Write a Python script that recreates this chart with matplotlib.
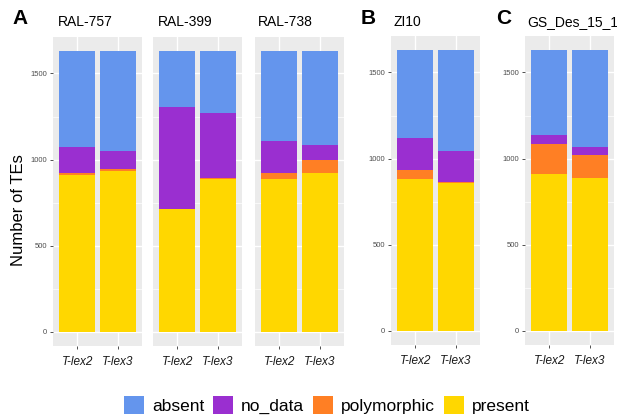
import matplotlib
matplotlib.use('Agg')
import matplotlib.pyplot as plt
from matplotlib.patches import Patch
import numpy as np

plt.rcParams['font.family'] = ['Liberation Sans', 'DejaVu Sans']

# Data (number of TEs per category)
samples = ['RAL-757', 'RAL-399', 'RAL-738', 'ZI10', 'GS_Des_15_1']
genotypes = ['T-lex2', 'T-lex3']
present = [[909, 936], [714, 890], [890, 924], [879, 858], [912, 885]]
polymorphic = [[15, 10], [0, 5], [33, 74], [54, 8], [174, 134]]
no_data = [[147, 106], [589, 376], [187, 87], [185, 178], [50, 46]]
absent = [[559, 578], [327, 359], [520, 545], [512, 586], [494, 565]]

categories = ['absent', 'no_data', 'polymorphic', 'present']
colors = {'absent': '#6495ED', 'no_data': '#9A2FD0',
          'polymorphic': '#FF7F24', 'present': '#FFD700'}
stack_order = [('present', present), ('polymorphic', polymorphic),
               ('no_data', no_data), ('absent', absent)]

W, H = 617, 419
fig = plt.figure(figsize=(W / 100, H / 100), dpi=100)

# facet boxes in pixels: (left, right, top, bottom), and title x offset
boxes = [(53, 142, 37, 346), (153, 242, 37, 346), (255, 344, 37, 346),
         (391, 480, 36, 345), (525, 614, 36, 345)]
title_dx = [5, 5, 3, 2, 2]
show_y = [True, False, False, True, True]

x = np.array([1, 2])
for i, (name, (l, r, t, b)) in enumerate(zip(samples, boxes)):
    ax = fig.add_axes([l / W, 1 - b / H, (r - l) / W, (b - t) / H])
    ax.set_facecolor('#EBEBEB')
    bottom = np.zeros(2)
    for cat, vals in stack_order:
        v = np.array(vals[i])
        ax.bar(x, v, width=0.9, bottom=bottom, color=colors[cat],
               edgecolor='none', zorder=3)
        bottom += v
    ax.set_xlim(0.4, 2.6)
    ax.set_ylim(-81.5, 1711.5)
    ax.set_yticks([0, 500, 1000, 1500])
    ax.set_yticks([250, 750, 1250], minor=True)
    ax.set_xticks(x)
    ax.set_xticklabels(genotypes, fontsize=8.5, style='italic', color='#1A1A1A')
    ax.grid(True, which='major', color='white', linewidth=1.0, zorder=0)
    ax.grid(True, which='minor', axis='y', color='white', linewidth=0.5, zorder=0)
    ax.tick_params(axis='both', which='major', length=2.5, width=0.6,
                   color='#333333', pad=2)
    ax.tick_params(axis='x', pad=4.5)
    ax.tick_params(axis='y', which='minor', length=0)
    ax.tick_params(axis='y', labelsize=5.5, labelcolor='#4D4D4D')
    if not show_y[i]:
        ax.tick_params(axis='y', which='major', length=0, labelleft=False)
    for s in ax.spines.values():
        s.set_visible(False)
    ax.set_axisbelow(True)
    fig.text((l + title_dx[i]) / W, 1 - 22 / H, name, fontsize=10,
             ha='left', va='center')

# panel letters
for letter, px in [('A', 12), ('B', 361), ('C', 496)]:
    fig.text(px / W, 1 - 19 / H, letter, fontsize=15, fontweight='bold',
             ha='left', va='center')

fig.text(19 / W, 1 - 210 / H, 'Number of TEs', rotation=90, fontsize=12,
         ha='center', va='center')

handles = [Patch(facecolor=colors[c], edgecolor='none') for c in categories]
fig.legend(handles, categories, loc='center', bbox_to_anchor=(327 / W, 1 - 405 / H),
           ncol=4, frameon=False, fontsize=12.5, handlelength=1.15,
           handleheight=1.25, handletextpad=0.46, columnspacing=0.52,
           borderpad=0.2)

fig.savefig('out.png', dpi=100)
